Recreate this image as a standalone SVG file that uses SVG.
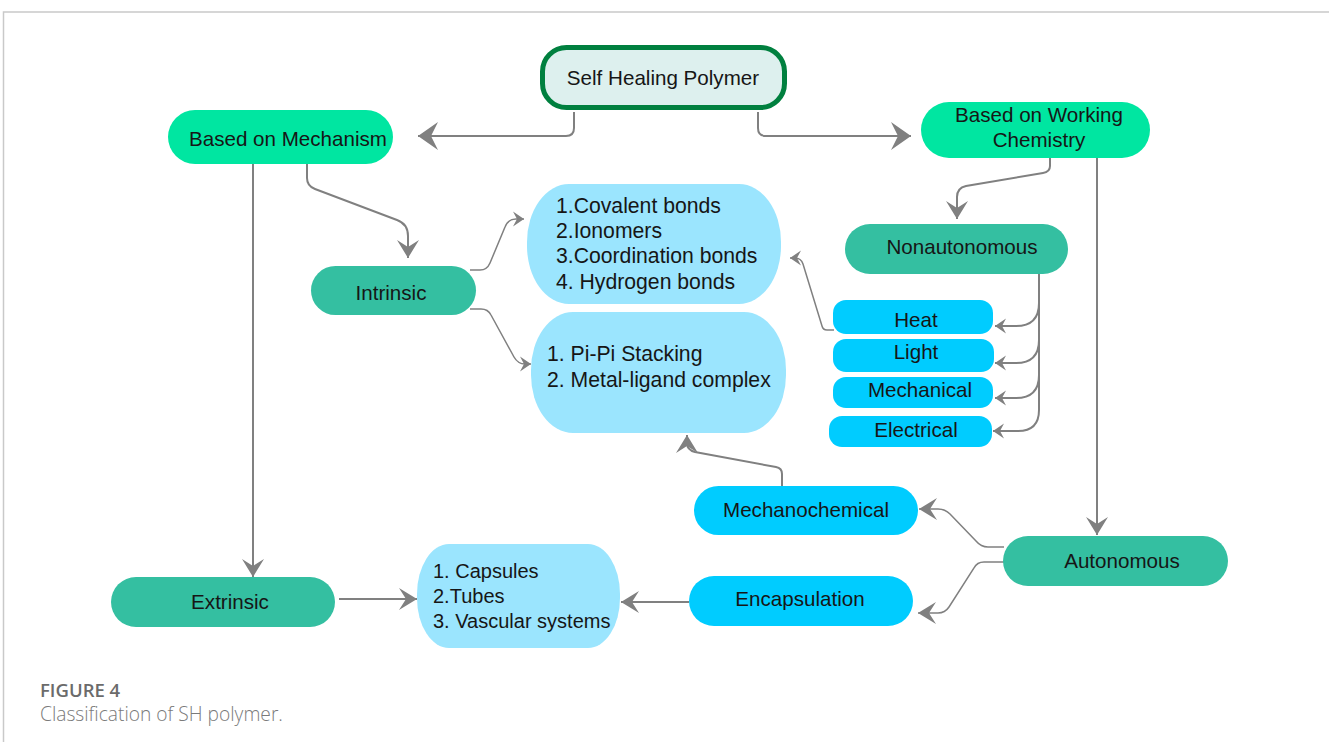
<svg xmlns="http://www.w3.org/2000/svg" width="1329" height="742" viewBox="0 0 1329 742">
  <style>
    .lbl { font-family: "Liberation Sans", Arial, sans-serif; font-size: 20.6px; fill: #161616; }
    .list { font-size: 21.2px; }
    .small { font-size: 20px; }
    .mid { text-anchor: middle; }
    .lime { fill: #00e6a1; }
    .teal { fill: #34bfa1; }
    .cyan { fill: #00ccff; }
    .pale { fill: #9be5fe; }
    .wire { fill: none; stroke: #808080; stroke-width: 2; }
    .thin { fill: none; stroke: #808080; stroke-width: 1.5; }
    .cap1 { font-family: "Open Sans", "Liberation Sans", sans-serif; font-size: 18.5px; font-weight: 600; fill: #6b6b6b; }
    .cap2 { font-family: "Open Sans", "Liberation Sans", sans-serif; font-size: 19.2px; font-weight: 300; fill: #7a7a7a; }
  </style>
  <defs>
    <marker id="big" viewBox="-20 -14 21 28" markerWidth="21" markerHeight="28" refX="0" refY="0" orient="auto" markerUnits="userSpaceOnUse">
      <path d="M0,0 L-20,-14 L-13,0 L-20,14 Z" fill="#808080"/>
    </marker>
    <marker id="med" viewBox="-18 -11 19 22" markerWidth="19" markerHeight="22" refX="0" refY="0" orient="auto" markerUnits="userSpaceOnUse">
      <path d="M0,0 L-18,-11 L-11,0 L-18,11 Z" fill="#808080"/>
    </marker>
    <marker id="sm" viewBox="-11 -8 12 16" markerWidth="12" markerHeight="16" refX="0" refY="0" orient="auto" markerUnits="userSpaceOnUse">
      <path d="M0,0 L-11,-7.5 L-7,0 L-11,7.5 Z" fill="#808080"/>
    </marker>
  </defs>

  <rect width="1329" height="742" fill="#ffffff"/>

  <!-- figure frame -->
  <path d="M3.5,742 V12 H1329" fill="none" stroke="#c9c9c9" stroke-width="1.5"/>

  <!-- connectors -->
  <g id="connectors">
    <path class="wire" d="M574,112 V128 Q574,136 566,136 H418" marker-end="url(#big)"/>
    <path class="wire" d="M758,112 V128 Q758,136 766,136 H911" marker-end="url(#big)"/>
    <path class="wire" d="M253,164 V577" marker-end="url(#med)"/>
    <path class="wire" d="M307,164 V178 Q307,186 315,189 L397,220 Q408,224 408,236 V258" marker-end="url(#med)"/>
    <path class="thin" d="M470,270 H480 Q487,270 490,263 L505,227 Q508,219 516,219 H524" marker-end="url(#sm)"/>
    <path class="thin" d="M470,309 H481 Q488,309 491,315 L514,357 Q518,364 525,364 H531" marker-end="url(#sm)"/>
    <path class="wire" d="M1050,158 V166 Q1050,172 1043,173 L966,186 Q957,188 957,197 V219" marker-end="url(#med)"/>
    <path class="wire" d="M1097,158 V535" marker-end="url(#med)"/>
    <path class="wire" d="M1039,274 V410 Q1039,431 1018,431 H993" marker-end="url(#sm)"/>
    <path class="wire" d="M1039,303 Q1039,326 1016,326 H995" marker-end="url(#sm)"/>
    <path class="wire" d="M1039,340 Q1039,363 1016,363 H995" marker-end="url(#sm)"/>
    <path class="wire" d="M1039,375 Q1039,398 1016,398 H995" marker-end="url(#sm)"/>
    <path class="thin" d="M834,330 H827 Q823,330 822,326 L803,264 Q801,258 795,258 H790" marker-end="url(#sm)"/>
    <path class="wire" d="M782,486 V474 Q782,468 776,467 L695,452 Q687,450 687,443 V435" marker-end="url(#med)"/>
    <path class="thin" d="M1004,547 H988 Q981,547 976,541 L950,514 Q945,509 938,509 H919" marker-end="url(#med)"/>
    <path class="thin" d="M1004,562 H984 Q977,562 974,568 L949,607 Q945,613 938,613 H918" marker-end="url(#med)"/>
    <path class="wire" d="M339,599 H417" marker-end="url(#med)"/>
    <path class="wire" d="M689,602 H621" marker-end="url(#med)"/>
  </g>

  <!-- nodes -->
  <g id="self-healing-polymer">
    <rect x="542.5" y="47.5" width="242" height="60" rx="24" fill="#ddf0ee" stroke="#00803f" stroke-width="5"/>
    <text class="lbl mid" x="663" y="85">Self Healing Polymer</text>
  </g>
  <g id="based-on-mechanism">
    <rect class="lime" x="168" y="110" width="225" height="54" rx="27"/>
    <text class="lbl mid" x="288" y="146">Based on Mechanism</text>
  </g>
  <g id="based-on-working-chemistry">
    <rect class="lime" x="921" y="102" width="229" height="56" rx="28"/>
    <text class="lbl mid" x="1039" y="122">Based on Working</text>
    <text class="lbl mid" x="1039" y="147">Chemistry</text>
  </g>
  <g id="intrinsic">
    <rect class="teal" x="311" y="266" width="165" height="49" rx="24.5"/>
    <text class="lbl mid" x="391" y="300">Intrinsic</text>
  </g>
  <g id="extrinsic">
    <rect class="teal" x="111" y="577" width="224" height="50" rx="25"/>
    <text class="lbl mid" x="230" y="609">Extrinsic</text>
  </g>
  <g id="bond-types">
    <rect class="pale" x="527" y="184" width="254" height="120" rx="42" ry="58"/>
    <text class="lbl list" x="556" y="213">1.Covalent bonds</text>
    <text class="lbl list" x="556" y="238">2.Ionomers</text>
    <text class="lbl list" x="556" y="263">3.Coordination bonds</text>
    <text class="lbl list" x="556" y="289">4. Hydrogen bonds</text>
  </g>
  <g id="supramolecular">
    <rect class="pale" x="531" y="312" width="255" height="121" rx="42" ry="58"/>
    <text class="lbl list" x="547" y="361">1. Pi-Pi Stacking</text>
    <text class="lbl list" x="547" y="387">2. Metal-ligand complex</text>
  </g>
  <g id="nonautonomous">
    <rect class="teal" x="845" y="224" width="223" height="50" rx="25"/>
    <text class="lbl mid" x="962" y="254">Nonautonomous</text>
  </g>
  <g id="heat">
    <rect class="cyan" x="833" y="300" width="160" height="34" rx="13"/>
    <text class="lbl mid" x="916" y="327">Heat</text>
  </g>
  <g id="light">
    <rect class="cyan" x="833" y="339" width="161" height="33" rx="13"/>
    <text class="lbl mid" x="916" y="359">Light</text>
  </g>
  <g id="mechanical">
    <rect class="cyan" x="833" y="377" width="160" height="31" rx="13"/>
    <text class="lbl mid" x="920" y="397">Mechanical</text>
  </g>
  <g id="electrical">
    <rect class="cyan" x="829" y="416" width="163" height="31" rx="13"/>
    <text class="lbl mid" x="916" y="437">Electrical</text>
  </g>
  <g id="mechanochemical">
    <rect class="cyan" x="694" y="486" width="224" height="49" rx="24.5"/>
    <text class="lbl mid" x="806" y="517">Mechanochemical</text>
  </g>
  <g id="encapsulation">
    <rect class="cyan" x="689" y="576" width="224" height="50" rx="25"/>
    <text class="lbl mid" x="800" y="606">Encapsulation</text>
  </g>
  <g id="autonomous">
    <rect class="teal" x="1003" y="536" width="225" height="50" rx="25"/>
    <text class="lbl mid" x="1122" y="568">Autonomous</text>
  </g>
  <g id="containers">
    <rect class="pale" x="417" y="544" width="203" height="104" rx="32" ry="50"/>
    <text class="lbl small" x="433" y="578">1. Capsules</text>
    <text class="lbl small" x="433" y="603">2.Tubes</text>
    <text class="lbl small" x="433" y="628">3. Vascular systems</text>
  </g>

  <!-- caption -->
  <text class="cap1" x="40" y="697">FIGURE 4</text>
  <text class="cap2" x="40" y="721">Classification of SH polymer.</text>
</svg>
